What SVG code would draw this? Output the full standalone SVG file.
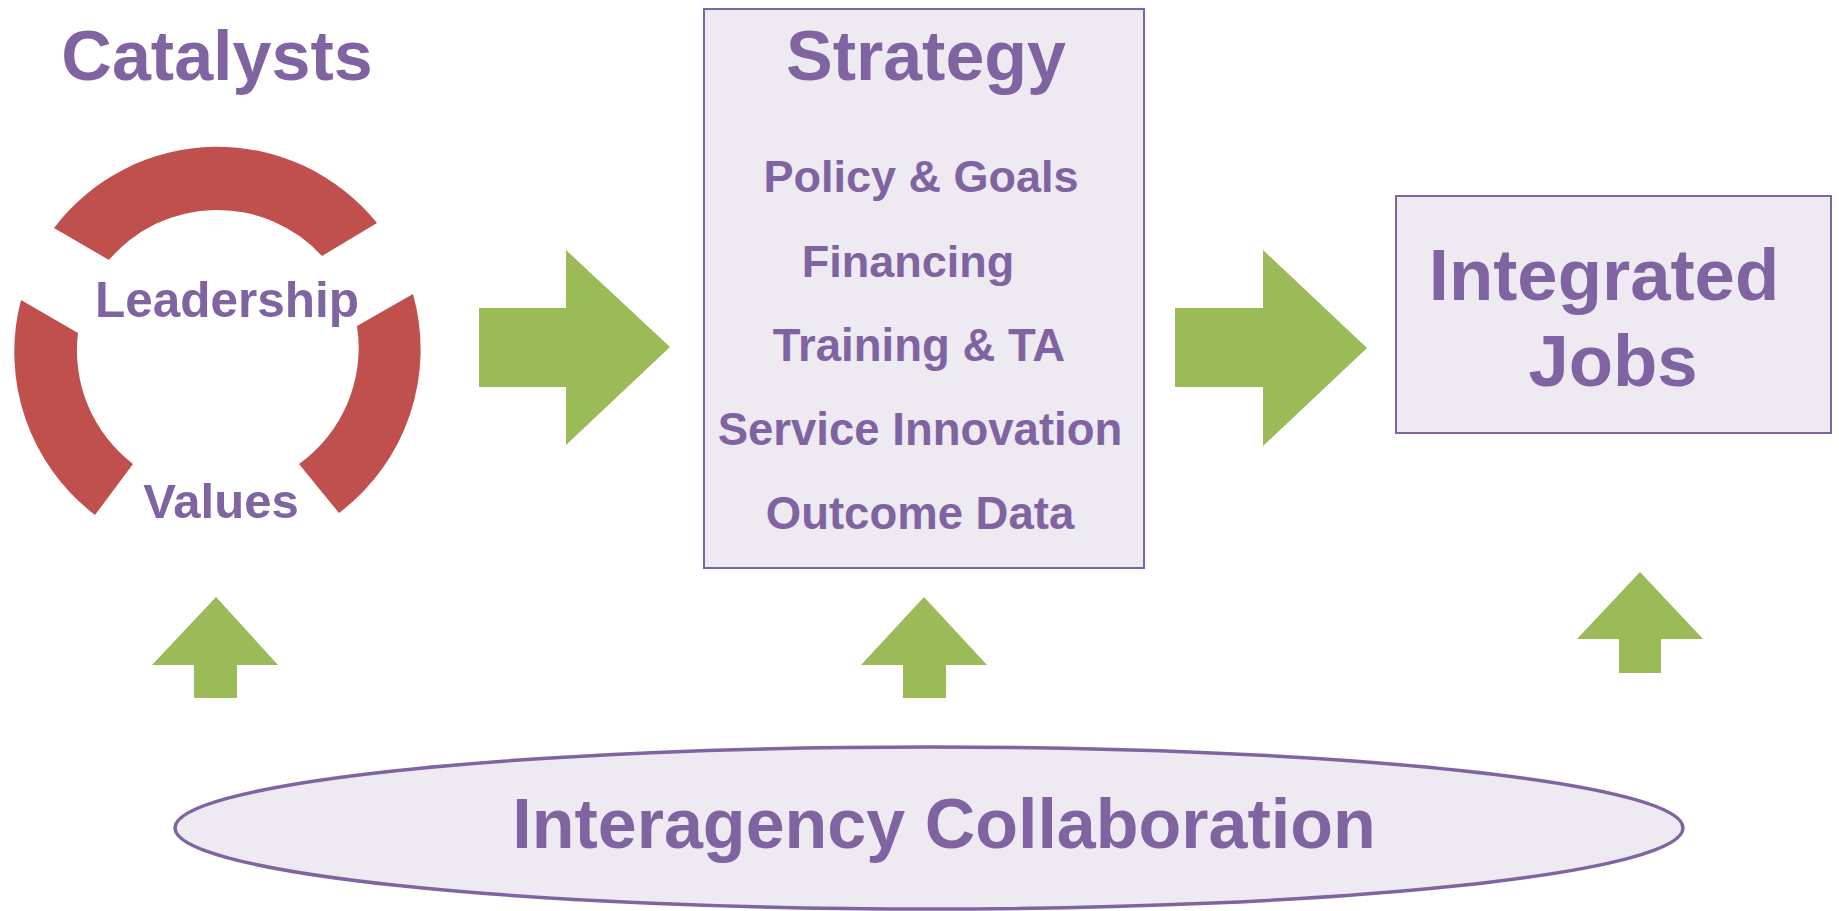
<svg xmlns="http://www.w3.org/2000/svg" width="1839" height="911" viewBox="0 0 1839 911">
  <style>
    .t { font-family: "Liberation Sans", Arial, Helvetica, sans-serif; font-weight: bold; fill: #8064A2; text-anchor: middle; }
    .ring { fill: #C0504D; }
    .arrow { fill: #9BBB59; }
    .box { fill: #EDEAF2; stroke: #8064A2; stroke-width: 2; }
  </style>
  <rect width="1839" height="911" fill="#FFFFFF"/>

  <g id="catalysts">
    <text class="t" x="217" y="80" font-size="70">Catalysts</text>
    <path class="ring" d="M54,228 A205,205 0 0 1 377,223 L322,256 A142,142 0 0 0 109,260 Z"/>
    <path class="ring" d="M21,300 A205,205 0 0 0 95,515 L133,464 A143,143 0 0 1 78,333 Z"/>
    <path class="ring" d="M413,294 A205,205 0 0 1 339,513 L299,464 A143,143 0 0 0 357,326 Z"/>
    <text class="t" x="227" y="317" font-size="49.5">Leadership</text>
    <text class="t" x="221" y="518" font-size="49">Values</text>
  </g>

  <g id="strategy">
    <rect class="box" x="704" y="9" width="440" height="559"/>
    <text class="t" x="926" y="80" font-size="70">Strategy</text>
    <text class="t" x="921" y="192" font-size="45">Policy &amp; Goals</text>
    <text class="t" x="908" y="277" font-size="45">Financing</text>
    <text class="t" x="919" y="361" font-size="45.5">Training &amp; TA</text>
    <text class="t" x="920" y="445" font-size="45.5">Service Innovation</text>
    <text class="t" x="920" y="529" font-size="45.5">Outcome Data</text>
  </g>

  <g id="jobs">
    <rect class="box" x="1396" y="196" width="435" height="237"/>
    <text class="t" x="1604" y="300" font-size="72.5">Integrated</text>
    <text class="t" x="1613" y="386" font-size="72.5">Jobs</text>
  </g>

  <g id="collaboration">
    <ellipse cx="929" cy="828" rx="754" ry="81" fill="#EDEAF2" stroke="#8064A2" stroke-width="3.5"/>
    <text class="t" x="944" y="848" font-size="70">Interagency Collaboration</text>
  </g>

  <g id="connectors">
    <polygon class="arrow" points="479,308 566,308 566,250 670,347 566,445 566,387 479,387"/>
    <polygon class="arrow" points="1175,308 1263,308 1263,250 1367,348 1263,446 1263,387 1175,387"/>
    <polygon class="arrow" points="216,597 278,665 237,665 237,698 194,698 194,665 152,665"/>
    <polygon class="arrow" points="924,597 987,665 946,665 946,698 903,698 903,665 861,665"/>
    <polygon class="arrow" points="1640,572 1703,639 1661,639 1661,673 1619,673 1619,639 1577,639"/>
  </g>
</svg>
